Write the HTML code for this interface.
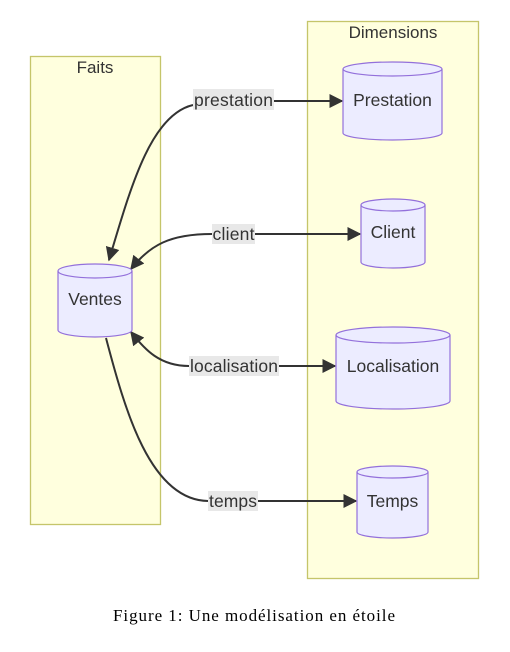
<!DOCTYPE html>
<html><head><style>
body{margin:0;background:#fff;width:510px;height:647px;overflow:hidden}
text{font-family:"Liberation Sans",sans-serif;fill:#333}
</style></head><body>
<svg width="510" height="647" viewBox="0 0 510 647">
<defs><marker id="a" viewBox="0 0 10 10" refX="9" refY="5" markerWidth="8" markerHeight="8" markerUnits="userSpaceOnUse" orient="auto-start-reverse"><path d="M0,0L10,5L0,10z" fill="#333"/></marker>
<marker id="b" viewBox="0 0 10 10" refX="9" refY="5" markerWidth="14" markerHeight="14" markerUnits="userSpaceOnUse" orient="auto"><path d="M0,0L10,5L0,10z" fill="#333"/></marker></defs>
<rect x="30.5" y="56.5" width="130" height="468" fill="#ffffde" stroke="#c5c56a" stroke-width="1.3"/>
<rect x="307.5" y="21.5" width="171" height="557" fill="#ffffde" stroke="#c5c56a" stroke-width="1.3"/>
<text x="95" y="73" font-size="17" text-anchor="middle">Faits</text>
<text x="393" y="38" font-size="17" text-anchor="middle">Dimensions</text>
<g fill="none" stroke="#333" stroke-width="2">
<path d="M193,105 C150,115 130,190 109,260" marker-end="url(#b)"/>
<path d="M274,101 L342,101" marker-end="url(#b)"/>
<path d="M212,234 C170,234 150,245 131,269" marker-end="url(#b)"/>
<path d="M255,234 L360,234" marker-end="url(#b)"/>
<path d="M189,366 C160,366 145,350 131,332" marker-end="url(#b)"/>
<path d="M279,366 L335,366" marker-end="url(#b)"/>
<path d="M106,338 C125,410 150,500 208,501"/>
<path d="M258,501 L356,501" marker-end="url(#b)"/>
</g>
<g fill="#e8e8e8">
<rect x="193" y="89" width="81" height="21"/>
<rect x="212" y="224" width="43" height="20"/>
<rect x="189" y="356" width="90" height="20"/>
<rect x="208" y="491" width="50" height="20"/>
</g>
<g font-size="17.5">
<text x="233.5" y="106" text-anchor="middle" textLength="79">prestation</text>
<text x="233.5" y="240" text-anchor="middle" textLength="42">client</text>
<text x="234" y="372" text-anchor="middle" textLength="88">localisation</text>
<text x="233" y="507" text-anchor="middle" textLength="48">temps</text>
</g>
<g fill="#ececff" stroke="#9370db" stroke-width="1.2">
<path d="M58,271 a37,7 0 0 1 74,0 v59 a37,7 0 0 1 -74,0z"/><path d="M58,271 a37,7 0 0 0 74,0" fill="none"/>
<path d="M343,69 a49.5,7 0 0 1 99,0 v64 a49.5,7 0 0 1 -99,0z"/><path d="M343,69 a49.5,7 0 0 0 99,0" fill="none"/>
<path d="M361,205 a32,6 0 0 1 64,0 v57 a32,6 0 0 1 -64,0z"/><path d="M361,205 a32,6 0 0 0 64,0" fill="none"/>
<path d="M336,335 a57,8 0 0 1 114,0 v66 a57,8 0 0 1 -114,0z"/><path d="M336,335 a57,8 0 0 0 114,0" fill="none"/>
<path d="M357,472 a35.5,6 0 0 1 71,0 v60 a35.5,6 0 0 1 -71,0z"/><path d="M357,472 a35.5,6 0 0 0 71,0" fill="none"/>
</g>
<g font-size="17.5" text-anchor="middle">
<text x="95" y="305">Ventes</text>
<text x="392.5" y="106">Prestation</text>
<text x="393" y="238">Client</text>
<text x="393" y="372">Localisation</text>
<text x="392.5" y="507">Temps</text>
</g>
<text x="254" y="621" font-size="17" text-anchor="middle" textLength="282" style="font-family:'Liberation Serif',serif;fill:#000">Figure 1: Une modélisation en étoile</text>
</svg>
</body></html>
